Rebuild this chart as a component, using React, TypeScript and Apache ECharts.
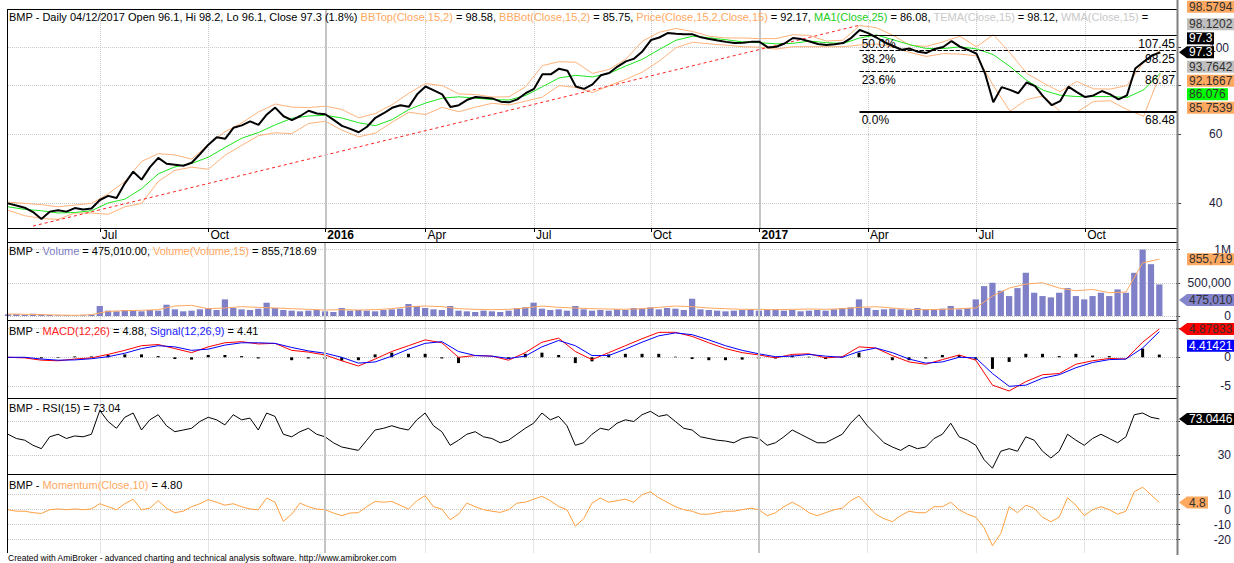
import React, { useEffect, useRef } from 'react';
import * as echarts from 'echarts';

// ---------------- data ----------------
const firstWeek = '2015-04-13';
const weekCount = 141; // weekly categories (last two are empty padding)

const dateTickLabels: [string, string][] = [
  ['2015-06-29', 'Jul'], ['2015-09-28', 'Oct'], ['2016-01-04', '2016'], ['2016-03-28', 'Apr'],
  ['2016-06-27', 'Jul'], ['2016-10-03', 'Oct'], ['2017-01-02', '2017'], ['2017-04-03', 'Apr'],
  ['2017-07-03', 'Jul'], ['2017-10-02', 'Oct'],
];
const yearStarts = ['2016-01-04', '2017-01-02'];

// weekly close
const closeW = [
  40.0, 39.5, 39.0, 38.0, 36.5, 38.1, 38.4, 38.1, 38.9, 38.6, 38.8,
  40.8, 41.8, 41.3, 45.0, 48.2, 46.0, 49.5, 52.3, 50.5, 50.2,
  49.9, 50.8, 53.5, 56.5, 59.0, 58.5, 62.4, 63.3, 64.8, 63.5,
  67.5, 70.3, 66.8, 65.3, 66.9, 69.0, 67.9, 67.6, 65.4, 63.1,
  62.0, 60.8, 62.8, 66.2, 68.0, 70.2, 71.3, 70.6, 76.0, 79.6,
  77.8, 76.0, 70.5, 71.3, 73.6, 74.8, 74.5, 74.2, 72.8, 72.5,
  73.8, 76.5, 78.5, 85.5, 85.5, 88.4, 87.3, 79.6, 78.5, 80.6,
  85.0, 86.2, 89.5, 92.3, 93.8, 98.0, 104.6, 106.2, 109.0, 108.5,
  108.2, 108.2, 106.3, 105.2, 104.3, 103.5, 102.8, 103.0, 103.5, 103.5,
  100.2, 100.6, 102.5, 105.9, 105.2, 103.7, 102.2, 101.6, 102.0, 102.8,
  106.0, 111.0, 109.0, 106.2, 103.2, 101.0, 98.8, 99.5, 97.6, 97.0,
  99.3, 100.4, 104.0, 100.6, 98.7, 96.5, 86.0, 72.5, 79.3, 78.0,
  76.5, 81.5, 79.8, 75.0, 71.3, 73.0, 79.5, 77.0, 74.8, 75.5,
  77.5, 76.0, 73.8, 75.5, 88.5, 92.0, 95.5, 97.3,
];
// every second week
const bbTop2W = [
  40.3, 40.0, 39.7, 39.2, 39.6, 40.0, 42.3, 45.5, 51.2, 53.6,
  53.2, 51.9, 56.5, 61.0, 64.2, 68.5, 71.8, 70.5, 70.3, 70.9,
  69.5, 66.2, 67.9, 71.5, 76.5, 81.0, 80.0, 76.2, 75.9, 74.8,
  74.9, 79.5, 90.0, 92.1, 91.8, 86.0, 88.0, 93.5, 104.0, 109.5,
  112.0, 110.0, 107.0, 105.9, 105.9, 105.5, 105.5, 108.0, 107.5, 104.0,
  104.5, 114.0, 112.5, 107.5, 101.5, 100.8, 103.5, 107.0, 100.5, 108.0,
  97.0, 86.0, 81.2, 77.2, 82.0, 78.5, 78.4, 80.0, 92.0, 98.58,
];
const bbBot2W = [
  38.4, 37.2, 36.6, 36.4, 37.8, 37.8, 37.5, 39.2, 40.0, 45.5,
  48.6, 49.5, 48.9, 53.1, 56.3, 59.6, 60.6, 60.3, 64.0, 64.9,
  61.5, 59.2, 60.5, 64.5, 68.4, 67.5, 70.4, 68.6, 70.5, 72.1,
  71.4, 73.0, 74.8, 80.0, 79.2, 76.8, 80.0, 83.0, 86.7, 92.5,
  100.0, 103.3, 102.3, 101.5, 100.6, 100.3, 99.2, 100.6, 100.6, 100.6,
  100.6, 101.6, 102.2, 100.5, 97.3, 95.0, 96.6, 96.3, 95.3, 80.0,
  68.8, 73.7, 75.3, 68.7, 68.4, 72.9, 73.2, 69.5, 66.8, 85.75,
];
const ma25_2W = [
  39.2, 38.6, 38.3, 37.8, 37.9, 38.3, 40.1, 41.0, 43.6, 47.6,
  49.6, 50.6, 52.5, 55.6, 58.7, 60.7, 63.5, 66.0, 66.9, 67.2,
  66.1, 64.3, 63.2, 65.5, 69.5, 72.2, 74.3, 74.9, 74.3, 73.7,
  73.5, 75.5, 79.5, 83.7, 85.0, 84.2, 86.0, 89.8, 93.5, 99.0,
  104.5, 107.0, 106.0, 104.8, 103.5, 103.0, 102.3, 102.6, 104.0, 103.0,
  102.5, 105.9, 107.8, 104.8, 101.8, 99.5, 99.5, 100.5, 99.3, 96.0,
  89.5, 82.5, 77.8, 75.6, 75.0, 75.0, 75.0, 74.6, 78.0, 86.08,
];
const trendLine: [number, number][] = [[3, 35.0], [102, 114.2]]; // [week index, price]
const fibStartWeek = 102;
const fibLevels = [
  { pct: '61.8%', value: 116.65, line: 'none' },
  { pct: '50.0%', value: 107.45, line: 'solid' },
  { pct: '38.2%', value: 98.25, line: 'dashed' },
  { pct: '23.6%', value: 86.87, line: 'dashed' },
  { pct: '0.0%', value: 68.48, line: 'thick' },
];

// volume in thousands (weekly)
const volumeK = [
  25, 30, 20, 35, 25, 15, 10, 10, 8, 10, 20,
  150, 80, 70, 90, 80, 70, 90, 80, 170, 100,
  70, 80, 100, 120, 90, 250, 120, 100, 90, 110,
  200, 120, 90, 80, 70, 80, 90, 70, 60, 120,
  80, 90, 80, 70, 90, 100, 110, 180, 150, 120,
  100, 90, 150, 80, 70, 60, 80, 70, 60, 80,
  120, 130, 200, 110, 90, 100, 80, 150, 100, 80,
  90, 80, 100, 90, 120, 110, 130, 100, 120, 110,
  90, 260, 100, 90, 80, 70, 80, 90, 100, 80,
  90, 100, 80, 90, 70, 80, 90, 80, 100, 120,
  130, 250, 120, 90, 100, 110, 100, 90, 120, 100,
  90, 110, 150, 100, 120, 250, 450, 500, 380, 300,
  420, 650, 350, 300, 280, 350, 420, 300, 250, 300,
  350, 300, 400, 350, 650, 1000, 780, 475,
];
const volumeMA2W = [
  30, 25, 20, 15, 10, 20, 70, 80, 85, 95,
  150, 160, 110, 120, 140, 130, 120, 110, 100, 90,
  95, 90, 95, 110, 140, 150, 140, 110, 100, 95,
  100, 120, 150, 130, 120, 110, 105, 100, 110, 130,
  150, 140, 120, 110, 100, 100, 95, 100, 105, 100,
  110, 130, 140, 120, 100, 95, 100, 110, 120, 300,
  420, 480, 500, 420, 380, 400, 350, 360, 800, 856,
];
const macd2W = [
  0, -0.1, -0.5, -0.6, -0.3, -0.1, 0.5, 1.2, 2.0, 2.2,
  1.5, 0.8, 1.8, 2.5, 2.7, 2.3, 2.4, 1.2, 0.9, 0.4,
  -0.6, -1.5, -0.3, 1.0, 2.0, 3.0, 2.5, 0.0, 0.3, 0.2,
  -0.5, 0.8, 2.6, 3.3, 1.0, -0.4, 0.8, 2.0, 3.2, 4.3,
  4.3, 3.6, 2.5, 1.5, 0.8, 0.4, -0.1, 0.5, 0.6, -0.1,
  0.1, 1.8, 1.6, 0.3, -0.8, -1.2, -0.4, 0.4, -0.5, -4.8,
  -5.8, -4.2, -3.0, -2.8, -1.2, -0.6, -0.2, -0.3, 2.6, 4.88,
];
const signal2W = [
  0, 0, -0.3, -0.5, -0.45, -0.25, 0.1, 0.7, 1.5, 2.0,
  1.8, 1.2, 1.4, 2.1, 2.5, 2.5, 2.4, 1.7, 1.1, 0.7,
  0.0, -1.0, -0.8, 0.2, 1.4, 2.4, 2.7, 1.0, 0.3, 0.2,
  -0.2, 0.2, 1.8, 2.9, 2.0, 0.3, 0.3, 1.4, 2.6, 3.7,
  4.2, 3.9, 3.0, 2.0, 1.2, 0.6, 0.1, 0.2, 0.5, 0.2,
  0.0, 1.0, 1.6, 0.8, -0.3, -1.0, -0.8, 0.0, -0.1, -2.8,
  -5.0, -4.8, -3.6, -3.0, -1.8, -0.9, -0.4, -0.3, 1.6, 4.41,
];
const hist2W = [
  0, -0.1, -0.2, -0.1, 0.15, 0.15, 0.4, 0.5, 0.5, 0.2,
  -0.3, -0.4, 0.4, 0.4, 0.2, -0.2, 0, -0.5, -0.2, -0.3,
  -0.6, -0.5, 0.5, 0.8, 0.6, 0.6, -0.2, -1.0, 0, 0,
  -0.3, 0.6, 0.8, 0.4, -1.0, -0.7, 0.5, 0.6, 0.6, 0.6,
  0.1, -0.3, -0.5, -0.5, -0.4, -0.2, -0.2, 0.3, 0.1, -0.3,
  0.1, 0.8, 0, -0.5, -0.5, -0.2, 0.4, 0.4, -0.4, -2.0,
  -0.8, 0.6, 0.6, 0.2, 0.6, 0.3, 0.2, 0, 1.5, 0.47,
];
const rsiW = [
  55, 50, 48, 42, 38, 52, 55, 50, 53, 52, 55,
  83, 70, 62, 75, 80, 60, 72, 78, 65, 58,
  60, 62, 70, 75, 72, 66, 78, 72, 74, 60,
  80, 76, 55, 52, 58, 62, 55, 52, 45, 40,
  38, 36, 48, 60, 62, 65, 62, 60, 72, 80,
  65, 58, 42, 48, 55, 58, 52, 50, 45, 48,
  55, 62, 68, 80, 72, 76, 65, 42, 45, 55,
  62, 60, 68, 72, 70, 78, 82, 76, 78, 70,
  62, 60, 52, 50, 48, 47, 45, 50, 52, 50,
  42, 45, 52, 60, 55, 50, 45, 45, 50, 55,
  68, 78, 65, 55, 45, 40, 36, 42, 38, 40,
  50, 55, 68, 52, 48, 42, 25, 15, 35, 38,
  35, 52, 48, 35, 27, 35, 55, 48, 42, 50,
  55, 50, 45, 52, 78, 80, 75, 73.04,
];
const momW = [
  0, -1, -1, -2, -2.5, 0, 0.5, 0, 0.5, 0, 0.5,
  4, 2, 0, 4, 7, 0, 1, 6, 1, -2,
  -1, 2, 4, 6.7, 5, 3, 4, 2, 0.5, 0,
  7.8, 5, -7.8, -3, 4.4, 2, 0.4, 0, -2.2, -4,
  -2.2, -2, 2, 5.5, 5, 5.5, 3, 0.4, 6, 9.3,
  2, 0.4, -6.7, -3, 4.4, 2, 0, -1, -1.8, 0,
  4.4, 5, 7, 8.9, 6, 2.2, 0, -11, -6, 4.4,
  7.8, 5, 6, 7, 5, 10, 12, 8, 5, 2,
  0, -1, -3, -3, -2, -1, -1, 0, 1, 0,
  -4, -2, 2, 5, 2, -2, -4, -2, 0, 1,
  6, 9, 3, -3, -6, -8, -4, -1, -2, -2,
  2, 2, 5, 0, -3, -5, -12, -24, -16, 2,
  -2, 3, 1, -5, -8, -5, 8, 3, -4, 0,
  2, 0, -3, -1, 12, 15, 10, 4.8,
];

// grid values per pane, and the subset whose labels are not hidden behind value tags
const priceTicks = [40, 60, 80, 100];
const priceLabels = [40, 60, 100];
const volumeTicksK = [0, 500, 1000];
const volumeLabelsK = [0, 500, 1000];
const macdTicks = [-5, 0, 5];
const macdLabels = [-5, 0];
const rsiTicks = [30, 70];
const rsiLabels = [30];
const momTicks = [-20, -10, 0, 10];
const momLabels = [-20, -10, 0, 10];

const priceTitle: [string, string][] = [
  ['BMP - Daily 04/12/2017 Open 96.1, Hi 98.2, Lo 96.1, Close 97.3 (1.8%) ', 'k'],
  ['BBTop(Close,15,2)', 'o'], [' = 98.58, ', 'k'],
  ['BBBot(Close,15,2)', 'o'], [' = 85.75, ', 'k'],
  ['Price(Close,15,2,Close,15)', 'o'], [' = 92.17, ', 'k'],
  ['MA1(Close,25)', 'g'], [' = 86.08, ', 'k'],
  ['TEMA(Close,15)', 'l'], [' = 98.12, ', 'k'],
  ['WMA(Close,15)', 'l'], [' =', 'k'],
];
const volumeTitle: [string, string][] = [
  ['BMP - ', 'k'], ['Volume', 'p'], [' = 475,010.00, ', 'k'], ['Volume(Volume,15)', 'o'], [' = 855,718.69', 'k'],
];
const macdTitle: [string, string][] = [
  ['BMP - ', 'k'], ['MACD(12,26)', 'r'], [' = 4.88, ', 'k'], ['Signal(12,26,9)', 'b'], [' = 4.41', 'k'],
];
const rsiTitle: [string, string][] = [['BMP - RSI(15) = 73.04', 'k']];
const momTitle: [string, string][] = [['BMP - ', 'k'], ['Momentum(Close,10)', 'o'], [' = 4.80', 'k']];
const footerText = 'Created with AmiBroker - advanced charting and technical analysis software. http://www.amibroker.com';

// last-value tags
const priceTags = [
  { text: '98.5794', bg: '#FFA860', fg: '#303030' },
  { text: '98.1202', bg: '#C0C0C0', fg: '#303030' },
  { text: '97.3', bg: '#000000', fg: '#FFFFFF' },
  { text: '97.3', bg: '#000000', fg: '#FFFFFF', arrow: true },
  { text: '93.7642', bg: '#C0C0C0', fg: '#303030' },
  { text: '92.1667', bg: '#FFA860', fg: '#303030' },
  { text: '86.076', bg: '#00FF00', fg: '#303030' },
  { text: '85.7539', bg: '#FFA860', fg: '#303030' },
];
const priceTagAnchor = 97.3;
const lowerTags = [
  { axis: 1, value: 855.719, text: '855,719', bg: '#FFA860', fg: '#303030' },
  { axis: 1, value: 475.01, text: '475,010', bg: '#8484CC', fg: '#303030', arrow: true },
  { axis: 2, value: 4.87833, text: '4.87833', bg: '#FF0000', fg: '#303030', arrow: true },
  { axis: 2, value: 4.41421, text: '4.41421', bg: '#0000FF', fg: '#FFFFFF' },
  { axis: 3, value: 73.0446, text: '73.0446', bg: '#000000', fg: '#FFFFFF', arrow: true },
  { axis: 4, value: 4.8, text: '4.8', bg: '#FFA860', fg: '#303030', arrow: true },
];

// ---------------- layout / style ----------------
const FONT = 'Arial, "Liberation Sans", Helvetica, sans-serif';
const GL = 8;
const GW = 1169;
const XR = GL + GW;
const panes = [
  { top: 9, height: 219 },
  { top: 242.5, height: 78 },
  { top: 320.5, height: 78 },
  { top: 398.5, height: 76 },
  { top: 474.5, height: 78.5 },
];
const yRanges = [
  { min: 34.6, max: 125.6 },
  { min: -68, max: 1106 },
  { min: -7.1, max: 6.34 },
  { min: 7.6, max: 97.1 },
  { min: -28.9, max: 23.5 },
];
const priceTagOffsets = [-45.5, -28, -14, 0, 14.5, 28.5, 42, 55.5];
const lowerTagShift = [0, 15.5, 0, 14, 0, 0];
const titleTops = [10, 244.5, 324.5, 401, 478.5];

const ORANGE = '#FFA860';
const richStyles = {
  k: { color: '#000000' },
  o: { color: '#FFA860' },
  g: { color: '#22CC22' },
  l: { color: '#C8C8C8' },
  p: { color: '#7C7CC4' },
  r: { color: '#FF2020' },
  b: { color: '#2020FF' },
};

function weeksList(): string[] {
  const out: string[] = [];
  const start = new Date(firstWeek + 'T00:00:00Z').getTime();
  for (let i = 0; i < weekCount; i++) {
    out.push(new Date(start + i * 7 * 86400000).toISOString().slice(0, 10));
  }
  return out;
}

function richTitle(parts: [string, string][]) {
  return parts.map(([t, k]) => `{${k}|${t}}`).join('');
}

function measure(text: string, size = 12) {
  const c = document.createElement('canvas').getContext('2d');
  if (!c) return text.length * 6.5;
  c.font = `${size}px ${FONT}`;
  return c.measureText(text).width;
}

function buildOption() {
  const weeks = weeksList();
  const tickMap = new Map(dateTickLabels);
  const isTick = (_i: number, v: string) => tickMap.has(v);
  const pairs2 = (arr: number[]) => arr.map((v, i) => [i * 2, v]);
  const pairs1 = (arr: number[]) => arr.map((v, i) => [i, v]);

  const yearLines = {
    silent: true,
    symbol: ['none', 'none'],
    label: { show: false },
    lineStyle: { color: '#C4C4C4', width: 2, type: 'solid' },
    data: yearStarts.map((d) => ({ xAxis: d })),
  };

  const richForText: any = {};
  Object.entries(richStyles).forEach(([k, v]) => {
    richForText[k] = { ...v, fontSize: 11, fontFamily: FONT, lineHeight: 13 };
  });
  const titles = [priceTitle, volumeTitle, macdTitle, rsiTitle, momTitle].map((p, i) => ({
    text: richTitle(p),
    left: 9,
    top: titleTops[i],
    padding: 0,
    textStyle: { fontSize: 11, fontWeight: 'normal', fontFamily: FONT, color: '#000', lineHeight: 13, rich: richForText },
  }));
  titles.push({
    text: footerText,
    left: 8,
    top: 552.5,
    padding: 0,
    textStyle: { fontSize: 8.5, fontWeight: 'normal', fontFamily: FONT, color: '#000', lineHeight: 10, rich: {} as any },
  } as any);

  const xAxes = panes.map((_, i) => ({
    type: 'category',
    gridIndex: i,
    data: weeks,
    boundaryGap: false,
    axisLine: { show: false },
    axisTick: { show: i === 0, interval: isTick, length: 4, lineStyle: { color: '#000' } },
    axisLabel: {
      show: i === 0,
      interval: isTick,
      align: 'left',
      margin: 1,
      padding: [0, 0, 0, 2],
      color: '#000',
      fontSize: 12,
      fontFamily: FONT,
      formatter: (v: string) => {
        const l = tickMap.get(v) || '';
        return /^\d{4}$/.test(l) ? `{y|${l}}` : l;
      },
      rich: { y: { fontWeight: 'bold', fontSize: 12, fontFamily: FONT, color: '#000' } },
    },
    splitLine: { show: true, interval: isTick, lineStyle: { color: '#C8C8C8', type: 'dotted', width: 1 } },
  }));

  const tickSets = [priceTicks, volumeTicksK, macdTicks, rsiTicks, momTicks];
  const labelSets = [priceLabels, volumeLabelsK, macdLabels, rsiLabels, momLabels];
  const fmts = [
    (v: number) => String(v),
    (v: number) => (v === 0 ? '0' : v === 1000 ? '1M' : (v * 1000).toLocaleString('en-US')),
    (v: number) => String(v),
    (v: number) => String(v),
    (v: number) => String(v),
  ];
  const yAxes = panes.map((_, i) => ({
    type: i === 0 ? 'log' : 'value',
    logBase: 10,
    gridIndex: i,
    position: 'right',
    min: yRanges[i].min,
    max: yRanges[i].max,
    axisLine: { show: false },
    axisTick: { show: true, customValues: tickSets[i], length: 4, inside: false, lineStyle: { color: '#404040' } },
    axisLabel: {
      show: true,
      customValues: labelSets[i],
      formatter: fmts[i],
      color: '#1C1C3C',
      fontSize: 12,
      fontFamily: FONT,
      align: i === 0 ? 'left' : 'right',
      margin: i === 0 ? 32 : 55,
    },
    splitLine: { show: true, lineStyle: { color: '#C8C8C8', type: 'dotted', width: 1 } },
  }));

  const fibData: any[] = [];
  fibLevels.forEach((f) => {
    const ls =
      f.line === 'none'
        ? { width: 0, opacity: 0 }
        : f.line === 'thick'
        ? { color: '#000', width: 2, type: 'solid' }
        : f.line === 'dashed'
        ? { color: '#000', width: 1, type: [4, 2] }
        : { color: '#000', width: 1, type: 'solid' };
    const lbl = (pos: string, text: string) => ({
      show: true,
      position: pos,
      formatter: text,
      color: '#000',
      fontSize: 12,
      fontFamily: FONT,
      distance: 2,
    });
    fibData.push([
      { coord: [weeks[fibStartWeek], f.value], lineStyle: ls, label: lbl('insideStartBottom', f.pct) },
      { coord: [weeks[weekCount - 1], f.value] },
    ]);
    fibData.push([
      { coord: [weeks[fibStartWeek], f.value], lineStyle: ls, label: lbl('insideEndBottom', String(f.value)) },
      { coord: [weeks[weekCount - 1], f.value] },
    ]);
  });

  const line = (xi: number, data: any[], color: string, width = 1, extra: any = {}) => ({
    type: 'line',
    xAxisIndex: xi,
    yAxisIndex: xi,
    data,
    showSymbol: false,
    symbol: 'none',
    lineStyle: { color, width },
    itemStyle: { color },
    ...extra,
  });

  const series: any[] = [
    line(0, pairs2(bbTop2W), '#FFB27A', 1, { markLine: yearLines }),
    line(0, pairs2(bbBot2W), '#FFB27A', 1),
    line(0, pairs2(ma25_2W), '#1EE61E', 1),
    line(0, trendLine.map(([w, v]) => [weeks[w], v]), '#FF2020', 1, {
      lineStyle: { color: '#FF2020', width: 1, type: [3, 3] },
    }),
    line(0, pairs1(closeW), '#000000', 2, {
      z: 5,
      markLine: { silent: true, symbol: ['none', 'none'], data: fibData, z: 6 },
    }),
    {
      type: 'bar',
      xAxisIndex: 1,
      yAxisIndex: 1,
      data: pairs1(volumeK),
      itemStyle: { color: '#8080C8' },
      barCategoryGap: '25%',
      markLine: yearLines,
    },
    line(1, pairs2(volumeMA2W), ORANGE, 1),
    {
      type: 'bar',
      xAxisIndex: 2,
      yAxisIndex: 2,
      data: pairs2(hist2W),
      itemStyle: { color: '#000' },
      barWidth: 3,
      markLine: yearLines,
    },
    line(2, pairs2(macd2W), '#FF0000', 1),
    line(2, pairs2(signal2W), '#0000FF', 1),
    line(3, pairs1(rsiW), '#000000', 1, { markLine: yearLines }),
    line(4, pairs1(momW), '#FFA040', 1, { markLine: yearLines }),
  ];

  return {
    animation: false,
    backgroundColor: '#FFFFFF',
    textStyle: { fontFamily: FONT },
    title: titles,
    grid: panes.map((p) => ({ left: GL, top: p.top, width: GW, height: p.height, containLabel: false, show: false })),
    xAxis: xAxes,
    yAxis: yAxes,
    series,
  };
}

function tagElems(yc: number, t: any) {
  const w = Math.round(measure(t.text) + 4);
  const x0 = 1187;
  const h = 12;
  const shape = t.arrow
    ? {
        type: 'polygon',
        z: 100,
        shape: { points: [[1179, yc], [x0, yc - h / 2], [x0 + w, yc - h / 2], [x0 + w, yc + h / 2], [x0, yc + h / 2]] },
        style: { fill: t.bg },
      }
    : { type: 'rect', z: 100, shape: { x: x0, y: yc - h / 2, width: w, height: h }, style: { fill: t.bg } };
  const txt = {
    type: 'text',
    z: 101,
    x: x0 + 2,
    y: yc,
    style: {
      text: t.text,
      fill: t.fg,
      font: `12px ${FONT}`,
      align: 'left',
      verticalAlign: 'middle',
      textAlign: 'left',
      textVerticalAlign: 'middle',
    },
  };
  return [shape, txt];
}

function buildGraphics(chart: any) {
  const py = (axis: number, v: number) => chart.convertToPixel({ yAxisIndex: axis }, v) as number;
  const els: any[] = [];
  const hl = (y: number) => ({
    type: 'line',
    z: 90,
    shape: { x1: 7, y1: y, x2: XR, y2: y },
    style: { stroke: '#000', lineWidth: 1 },
  });
  [9.5, 228.5, 242.5, 320.5, 398.5, 474.5].forEach((y) => els.push(hl(y)));
  els.push({ type: 'line', z: 90, shape: { x1: 7.5, y1: 9, x2: 7.5, y2: 553 }, style: { stroke: '#000', lineWidth: 1 } });
  els.push({ type: 'line', z: 90, shape: { x1: XR + 0.5, y1: 0, x2: XR + 0.5, y2: 555 }, style: { stroke: '#808080', lineWidth: 2 } });

  const anchor = py(0, priceTagAnchor);
  priceTags.forEach((t, i) => els.push(...tagElems(anchor + priceTagOffsets[i], t)));
  lowerTags.forEach((t, i) => els.push(...tagElems(py(t.axis, t.value) + lowerTagShift[i], t)));
  return els;
}

export default function App() {
  const ref = useRef<HTMLDivElement>(null);
  useEffect(() => {
    if (!ref.current) return;
    const chart = echarts.init(ref.current, null, { renderer: 'svg' });
    chart.setOption(buildOption() as any);
    chart.setOption({ graphic: buildGraphics(chart) } as any);
    return () => chart.dispose();
  }, []);
  return (
    <div
      ref={ref}
      style={{ position: 'absolute', left: 0, top: 0, width: 1234, height: 563, background: '#FFFFFF' }}
    />
  );
}
